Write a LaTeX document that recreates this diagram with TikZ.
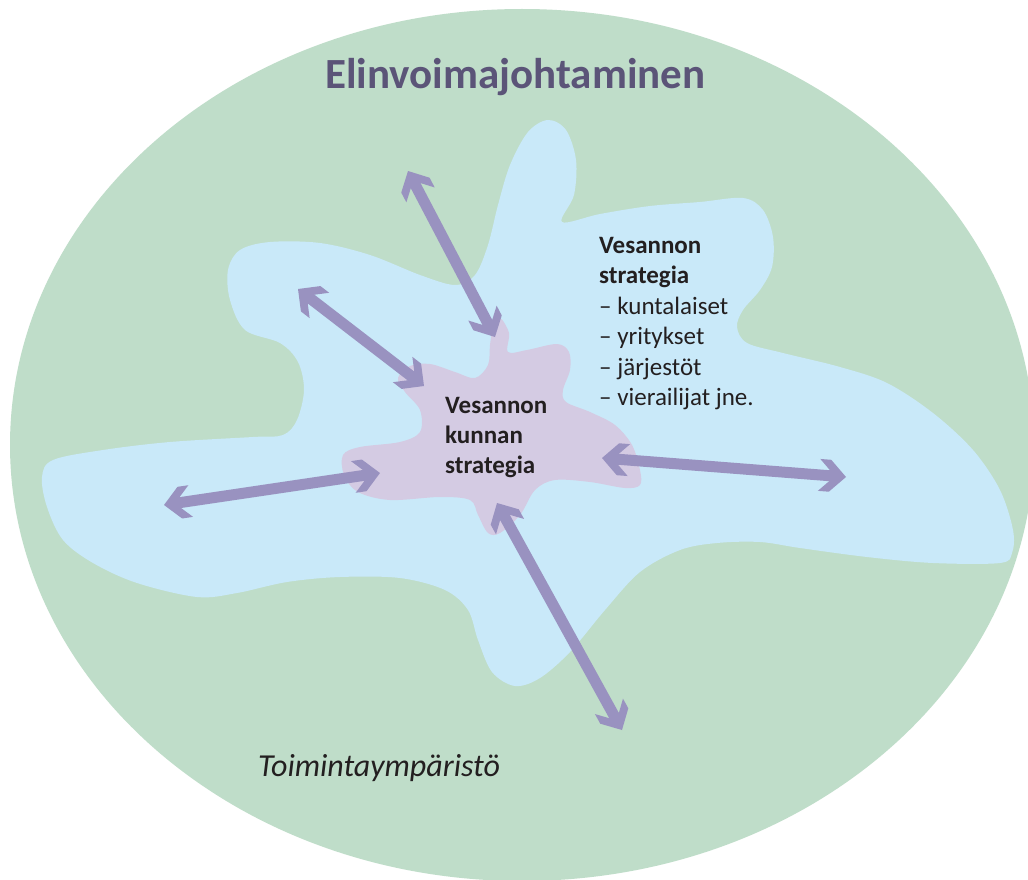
\documentclass[tikz,border=0pt]{standalone}
\usepackage{fontspec}
\setmainfont{Carlito}
\usetikzlibrary{arrows.meta}
\definecolor{envgreen}{HTML}{BFDDC9}
\definecolor{stratblue}{HTML}{C9E9F9}
\definecolor{munpurple}{HTML}{D4CBE3}
\definecolor{arrowc}{HTML}{9992C0}
\definecolor{titlec}{HTML}{5B5478}
\definecolor{textc}{HTML}{231F20}
\pgfdeclarearrow{
  name = Chevron,
  setup code = {
    \pgfarrowssettipend{0pt}
    \pgfarrowssetbackend{-27pt}
    \pgfarrowssetlineend{-14pt}
    \pgfarrowshullpoint{0pt}{0pt}
    \pgfarrowsupperhullpoint{-27pt}{16pt}
  },
  drawing code = {
    \pgfpathmoveto{\pgfqpoint{0pt}{0pt}}
    \pgfpathlineto{\pgfqpoint{-16pt}{16pt}}
    \pgfpathlineto{\pgfqpoint{-27pt}{16pt}}
    \pgfpathlineto{\pgfqpoint{-16.5pt}{5.5pt}}
    \pgfpathlineto{\pgfqpoint{-16.5pt}{-5.5pt}}
    \pgfpathlineto{\pgfqpoint{-27pt}{-16pt}}
    \pgfpathlineto{\pgfqpoint{-16pt}{-16pt}}
    \pgfpathclose
    \pgfusepathqfill
  }
}
\tikzset{
  biarrow/.style={draw=arrowc, line width=11pt, line cap=butt, Chevron-Chevron},
  sidetext/.style={anchor=base west, inner sep=0pt, text=textc, font=\fontsize{25}{30}\selectfont},
  sidebold/.style={sidetext, font=\fontsize{25}{30}\selectfont\bfseries}
}
\begin{document}
\begin{tikzpicture}[x=1pt,y=-1pt]
\useasboundingbox (0,0) rectangle (1028,880);
\fill[white] (0,0) rectangle (1028,880);
\begin{scope}
\clip (0,0) rectangle (1028,880);
\fill[envgreen] (522,445) ellipse [x radius=512pt, y radius=436pt];
\end{scope}
% strategy blob
\fill[stratblue] plot[smooth cycle, tension=0.55] coordinates {
 (283,435) (297,420) (304,390) (298,362) (280,343) (245,330) (230,300) (228,270) (240,250)
 (270,242) (320,243) (370,255) (420,275) (455,285) (475,275) (488,245) (498,205) (510,165)
 (528,132) (548,120) (566,130) (576,160) (574,195) (562,222) (600,214) (650,206) (700,202)
 (743,198) (763,210) (773,237) (772,267) (760,290) (743,310) (737,327) (747,343) (783,353)
 (840,367) (887,383) (933,413) (973,450) (1000,490) (1013,530) (1012,553) (1000,563) (933,563)
 (867,557) (800,548) (760,542) (717,543) (680,550) (640,572) (605,610) (570,652) (540,678)
 (515,686) (492,672) (478,640) (468,610) (445,590) (400,578) (340,577) (287,582) (237,593)
 (197,597) (137,583) (93,563) (63,540) (47,507) (42,477) (53,460) (103,450) (170,442) (253,437)};
% municipal blob
\fill[munpurple] plot[smooth cycle, tension=0.55] coordinates {
 (500,318) (509,333) (508,352) (527,350) (557,344) (569,352) (570,370) (563,390) (566,402)
 (590,412) (615,425) (632,445) (640,470) (640,485) (625,488) (590,482) (555,480) (535,490)
 (520,515) (500,533) (488,533) (478,515) (470,500) (440,497) (390,500) (358,492) (344,475)
 (343,455) (360,447) (400,442) (420,432) (420,410) (405,392) (398,378) (410,366) (430,364)
 (455,372) (475,378) (488,365) (490,345) (493,328)};
% arrow end points
\coordinate (topout) at (408,171);
\coordinate (topin) at (495,337);
\coordinate (ulout) at (298,289);
\coordinate (ulin) at (424,386);
\coordinate (leftout) at (164,505);
\coordinate (leftin) at (380,473);
\coordinate (rightin) at (602,458);
\coordinate (rightout) at (846,477);
\coordinate (botin) at (497,503);
\coordinate (botout) at (622,730);
\draw[biarrow] (topout) -- (topin);
\draw[biarrow] (ulout) -- (ulin);
\draw[biarrow] (leftout) -- (leftin);
\draw[biarrow] (rightin) -- (rightout);
\draw[biarrow] (botin) -- (botout);
% texts
\node[anchor=base west, inner sep=0pt, text=titlec, font=\fontsize{43}{50}\selectfont\bfseries] (title) at (325,89) {Elinvoimajohtaminen};
\node[sidebold] (c1) at (445,413) {Vesannon};
\node[sidebold] (c2) at (445,443) {kunnan};
\node[sidebold] (c3) at (445,473) {strategia};
\node[sidebold] (s1) at (599,253) {Vesannon};
\node[sidebold] (s2) at (599,283.5) {strategia};
\node[sidetext] (s3) at (599,314) {– kuntalaiset};
\node[sidetext] (s4) at (599,344.5) {– yritykset};
\node[sidetext] (s5) at (599,375) {– järjestöt};
\node[sidetext] (s6) at (599,405.5) {– vierailijat jne.};
\node[anchor=base west, inner sep=0pt, text=textc, font=\fontsize{32}{38}\selectfont\itshape] (env) at (258,776) {Toimintaympäristö};
\end{tikzpicture}
\end{document}
